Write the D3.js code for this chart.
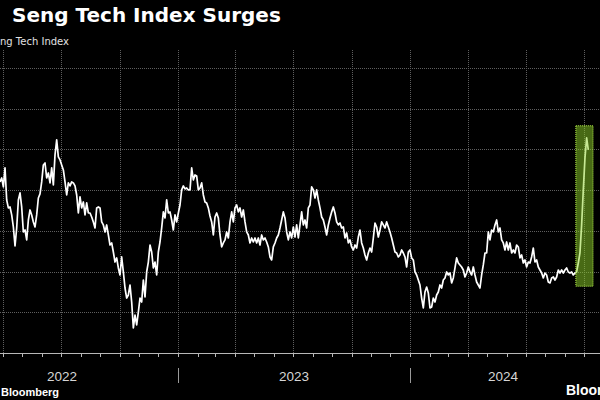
<!DOCTYPE html>
<html><head><meta charset="utf-8">
<script src="https://cdn.jsdelivr.net/npm/d3@7"></script>
<style>
html,body{margin:0;padding:0;background:#000;overflow:hidden;}
svg{display:block;background:#000;}
</style></head><body>
<svg id="c" width="600" height="400"></svg>
<script>
// ---- data ----
const titleWords = ["Hang", "Seng Tech Index Surges"];
const subtitleText = "Hang Seng Tech Index";
const sourceText = "Source: Bloomberg";
const logoText = "Bloomberg";
const axisStart = "2022-01-01";
const axisEnd = "2024-10-20";
const seriesStart = "2022-03-27";
const stepDays = 2.622; // readings taken about every 2.6 days
const yTicks = [3000, 3500, 4000, 4500, 5000, 5500, 6000];
const yBase = 2500;
const yTop = 6220;
const years = [2022, 2023, 2024];
const highlight = { start: "2024-09-18", end: "2024-10-15", low: 3320, high: 5290 };
const values = [
4600,4649,4539,4772,4379,4281,4293,4195,4047,3814, 4035,4379,4465,4293,3986,4010,3888,4133,4256,4195,
4109,4047,4195,4403,4453,4600,4809,4833,4649,4710, 4588,4772,4563,4932,5116,4907,4870,4809,4747,4600,
4440,4588,4551,4600,4588,4551,4440,4219,4416,4281, 4354,4195,4342,4219,4219,4170,4109,4035,4281,4293,
4281,4109,4072,3986,4072,3949,3826,3851,3740,3617, 3667,3544,3458,3679,3495,3298,3175,3212,3335,3126,
2807,2966,2844,3003,3175,3126,3396,3188,3495,3617, 3826,3740,3544,3617,3458,3740,3863,4035,4232,4158,
4379,4219,4232,4133,4010,4195,4109,4219,4317,4502, 4551,4514,4526,4502,4502,4772,4625,4686,4674,4502,
4526,4588,4440,4354,4342,4281,4182,4109,3949,4170, 4219,4158,3949,3802,3851,3888,3986,3912,4109,4232,
4109,4281,4317,4232,4281,4170,4256,4109,3986,3949, 3851,3912,3863,3912,3851,3912,3826,3949,3888,3912,
3863,3802,3679,3642,3802,3851,3912,3949,4035,4133, 4232,4158,3986,3888,3986,3912,4047,3924,4072,3912,
4072,4232,4072,4133,4035,4281,4317,4539,4502,4403, 4502,4379,4281,4170,4133,4047,3949,4072,4158,4232,
4293,4219,4109,4072,4096,4035,4047,3912,3974,3851, 3888,3802,3765,3826,3789,3924,4010,3851,3789,3703,
3642,3728,3789,3740,3912,4096,4047,3924,4010,4109, 4072,4035,4109,4047,3986,3912,3826,3740,3728,3679,
3703,3765,3728,3679,3556,3740,3765,3667,3642,3495, 3458,3396,3335,3175,3053,3249,3310,3237,3053,3065,
3175,3126,3212,3249,3335,3298,3396,3421,3495,3458, 3482,3360,3421,3544,3667,3605,3581,3556,3519,3433,
3482,3556,3495,3458,3556,3458,3372,3335,3298,3458, 3581,3728,3728,3986,3888,4010,3986,4072,4133,3986,
4035,3888,3851,3765,3863,3765,3851,3728,3765,3728, 3826,3802,3667,3703,3605,3642,3556,3617,3605,3679,
3789,3617,3642,3556,3519,3482,3421,3482,3458,3372, 3360,3421,3433,3396,3433,3519,3482,3519,3482,3519,
3544,3495,3482,3495,3458,3482,3495,3605,3728,4072, 4502,4895,5140,4993
];

// ---- build ----
const parse = d3.timeParse("%Y-%m-%d");
const t0 = parse(seriesStart).getTime();
const series = values.map((v, i) => ({ date: new Date(t0 + i * stepDays * 864e5), value: v }));

const svg = d3.select("#c");
const W = 600, H = 400;
const plotTop = 50, plotBottom = 353;

const x = d3.scaleTime().domain([parse(axisStart), parse(axisEnd)]).range([-54, 596.2]);
const y = d3.scaleLinear().domain([yBase, yTop]).range([plotBottom, plotTop]);

// horizontal gridlines
svg.append("g").selectAll("line").data(yTicks).join("line")
  .attr("x1", 0).attr("x2", W)
  .attr("y1", d => Math.round(y(d)) + 0.5).attr("y2", d => Math.round(y(d)) + 0.5)
  .attr("stroke", "#5e5e5e").attr("stroke-width", 1).attr("stroke-dasharray", "1,1");

// vertical quarterly gridlines
const quarters = x.ticks(d3.timeMonth.every(3));
svg.append("g").selectAll("line").data(quarters).join("line")
  .attr("x1", d => Math.round(x(d)) + 0.5).attr("x2", d => Math.round(x(d)) + 0.5)
  .attr("y1", plotTop).attr("y2", plotBottom)
  .attr("stroke", "#5e5e5e").attr("stroke-width", 1).attr("stroke-dasharray", "1,1");

// the line
const line = d3.line().x(d => x(d.date)).y(d => y(d.value));
svg.append("path").datum(series)
  .attr("d", line).attr("fill", "none")
  .attr("stroke", "#ffffff").attr("stroke-width", 1.7)
  .attr("stroke-linejoin", "round");

// highlight box
const hx0 = x(parse(highlight.start)), hx1 = x(parse(highlight.end));
const hy0 = y(highlight.high), hy1 = y(highlight.low);
svg.append("rect")
  .attr("x", hx0).attr("y", hy0).attr("width", hx1 - hx0).attr("height", hy1 - hy0)
  .attr("fill", "#8fd42a").attr("fill-opacity", 0.5)
  .attr("stroke", "#b4ee4a").attr("stroke-width", 1).attr("stroke-dasharray", "1,1");

// x axis line
svg.append("line").attr("x1", 0).attr("x2", W)
  .attr("y1", plotBottom + 0.5).attr("y2", plotBottom + 0.5)
  .attr("stroke", "#b8b8b8").attr("stroke-width", 1);

// monthly ticks
const months = x.ticks(d3.timeMonth.every(1));
svg.append("g").selectAll("line").data(months).join("line")
  .attr("x1", d => Math.round(x(d)) + 0.5).attr("x2", d => Math.round(x(d)) + 0.5)
  .attr("y1", plotBottom).attr("y2", plotBottom + 4)
  .attr("stroke", "#b8b8b8").attr("stroke-width", 1);

// year separators and labels
const dom = x.domain();
svg.append("g").selectAll("line").data(x.ticks(d3.timeYear.every(1))).join("line")
  .attr("x1", d => Math.round(x(d)) + 0.5).attr("x2", d => Math.round(x(d)) + 0.5)
  .attr("y1", 368).attr("y2", 383)
  .attr("stroke", "#9a9a9a").attr("stroke-width", 1);

svg.append("g").selectAll("text").data(years).join("text")
  .attr("x", yr => {
    const a = Math.max(new Date(yr, 0, 1), dom[0]);
    const b = Math.min(new Date(yr + 1, 0, 1), dom[1]);
    return (x(a) + x(b)) / 2;
  })
  .attr("y", 381).attr("text-anchor", "middle")
  .attr("fill", "#d6d6d6").attr("font-family", "'Liberation Sans', Arial, sans-serif")
  .attr("font-size", 13.5).text(d => d);

// texts whose beginnings are cut off by the left edge, as in the reference
function placeCut(txt, prefixLen, visibleX, yPos, size, weight, fill, family) {
  const t = svg.append("text").attr("y", yPos).attr("font-size", size)
    .attr("font-weight", weight).attr("fill", fill).attr("font-family", family).text(txt);
  const w = prefixLen > 0 ? t.node().getSubStringLength(0, prefixLen) : 0;
  t.attr("x", visibleX - w);
  return t;
}

// title: first word sits just beyond the left edge, the rest starts at x = 12
const title = svg.append("text").attr("y", 22).attr("font-size", 20)
  .attr("font-weight", "bold").attr("fill", "#ffffff")
  .attr("font-family", "'DejaVu Sans', Verdana, sans-serif");
const tw = title.append("tspan").text(titleWords[0]);
const hangW = tw.node().getComputedTextLength();
title.attr("x", -hangW - 2);
title.append("tspan").attr("x", 12).text(titleWords[1]);

placeCut(subtitleText, 7, 0, 45, 10, "normal", "#e2e2e2", "'DejaVu Sans', Verdana, sans-serif");
placeCut(sourceText, 8, 1, 396, 11, "bold", "#ffffff", "'Liberation Sans', Arial, sans-serif");
svg.append("text").attr("x", 566).attr("y", 395).attr("font-size", 14)
  .attr("font-weight", "bold").attr("fill", "#ffffff")
  .attr("font-family", "'Liberation Sans', Arial, sans-serif").text(logoText);
</script>
</body></html>
